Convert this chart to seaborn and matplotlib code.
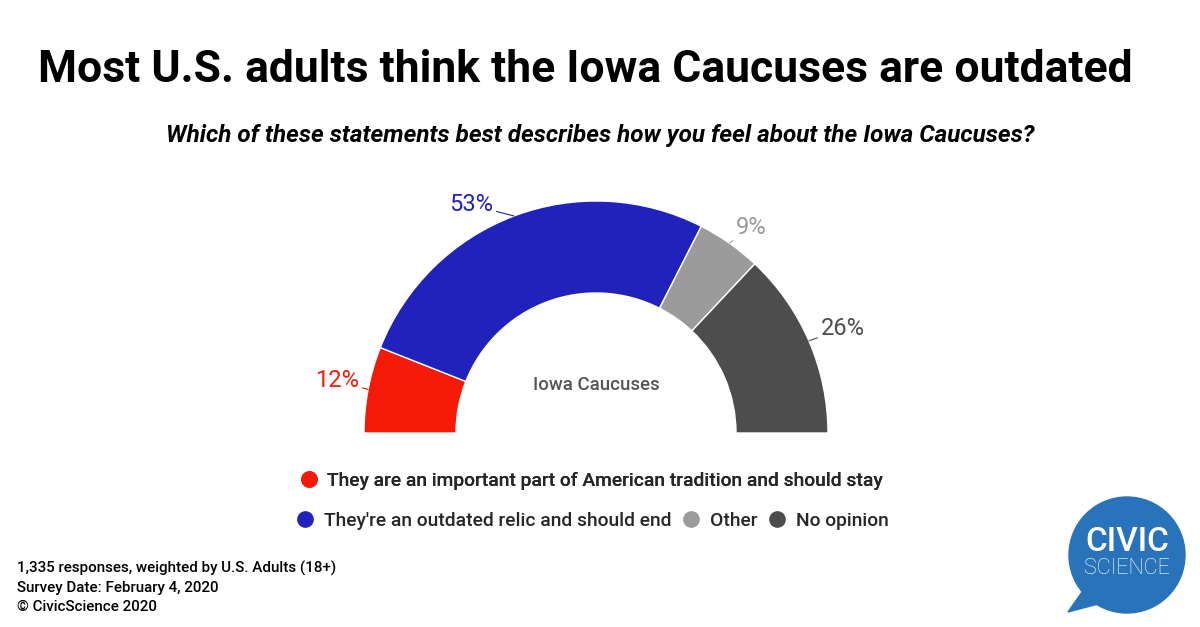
import matplotlib
matplotlib.use("Agg")
import matplotlib.pyplot as plt
import seaborn as sns
import numpy as np
from matplotlib.lines import Line2D
from matplotlib.patches import Circle, Polygon

# ---------------- data ----------------
categories = [
    "They are an important part of American tradition and should stay",
    "They're an outdated relic and should end",
    "Other",
    "No opinion",
]
values = [12, 53, 9, 26]
pct_labels = ["12%", "53%", "9%", "26%"]
colors = ["#F41A07", "#2121BB", "#9B9B9B", "#4D4D4D"]

title = "Most U.S. adults think the Iowa Caucuses are outdated"
subtitle = "Which of these statements best describes how you feel about the Iowa Caucuses?"
center_label = "Iowa Caucuses"
footer = ["1,335 responses, weighted by U.S. Adults (18+)",
          "Survey Date: February 4, 2020",
          "\u00a9 CivicScience 2020"]

# ---------------- style ----------------
sns.set_theme(style="white")
plt.rcParams['font.family'] = ['Roboto', 'DejaVu Sans']

W, H = 1200, 627
fig = plt.figure(figsize=(12, 6.27), dpi=100)
fig.patch.set_facecolor("white")
ax = fig.add_axes([0, 0, 1, 1])

cx, cy = 596, H - 433
R, ring = 232, 92
total = sum(values)

wedges, _ = ax.pie(values + [total], colors=colors + ["white"],
                   startangle=180, counterclock=False, radius=R,
                   center=(cx, cy),
                   wedgeprops=dict(width=ring, edgecolor="white", linewidth=1))
wedges[-1].set_visible(False)

ax.set_xlim(0, W)
ax.set_ylim(0, H)
ax.set_aspect("auto")
ax.axis("off")

# percentage labels with leader lines
label_r = [264, 260, 258, 268]
ang_off = [-0.6, 8.0, -2.0, -0.5]
cum = 0
for i, v in enumerate(values):
    mid = 180 - (cum + v / 2) / total * 180
    cum += v
    t = np.deg2rad(mid)
    ex, ey = cx + R * np.cos(t), cy + R * np.sin(t)
    t2 = np.deg2rad(mid + ang_off[i])
    tx, ty = cx + label_r[i] * np.cos(t2), cy + label_r[i] * np.sin(t2)
    ax.annotate(pct_labels[i], xy=(ex, ey), xytext=(tx, ty),
                ha="center", va="center", fontsize=17, color=colors[i],
                arrowprops=dict(arrowstyle="-", color=colors[i], lw=0.8,
                                shrinkA=0, shrinkB=0))

ax.text(cx, H - 385, center_label, ha="center", va="center",
        fontsize=13.4, color="#555555", fontweight="medium")

# titles
fig.text(38 / W, (H - 82) / H, title, ha="left", va="baseline",
         fontsize=32, fontweight="bold", color="black")
fig.text(600 / W, (H - 142) / H, subtitle, ha="center", va="baseline",
         fontsize=17.5, fontweight="bold", fontstyle="italic", color="black")

# legend
def handle(c):
    return Line2D([], [], marker="o", linestyle="none", markersize=11,
                  markerfacecolor=c, markeredgecolor=c)

leg1 = fig.legend([handle(colors[0])], [categories[0]], loc="center",
                  bbox_to_anchor=(591 / W, (H - 481) / H), frameon=False,
                  prop=dict(size=13.9, weight="medium"), handletextpad=0.45,
                  handlelength=1.0)
leg2 = fig.legend([handle(c) for c in colors[1:]], categories[1:], loc="center",
                  bbox_to_anchor=(592 / W, (H - 521) / H), frameon=False,
                  ncol=3, prop=dict(size=13.9, weight="medium"),
                  handletextpad=0.45, handlelength=1.0, columnspacing=0.55)
fig.add_artist(leg1)

# footer
for k, line in enumerate(footer):
    fig.text(17 / W, (H - 573 - k * 19) / H, line, ha="left", va="baseline",
             fontsize=10.9, fontweight="medium", color="black")

# logo
logo_c = "#2873BA"
lx, ly = 1127, H - 555
ax.add_patch(Polygon([(1082, H - 592), (1068, H - 612), (1102, H - 603)],
                     closed=True, color=logo_c))
ax.add_patch(Circle((lx, ly), 58, color=logo_c))
ax.text(lx, H - 542, "CIVIC", ha="center", va="center", fontsize=24,
        fontweight="medium", color="white")
ax.text(lx, H - 569, "SCIENCE", ha="center", va="center", fontsize=15.5,
        fontweight="light", color="white")

fig.savefig("out.png", dpi=100, facecolor="white")
